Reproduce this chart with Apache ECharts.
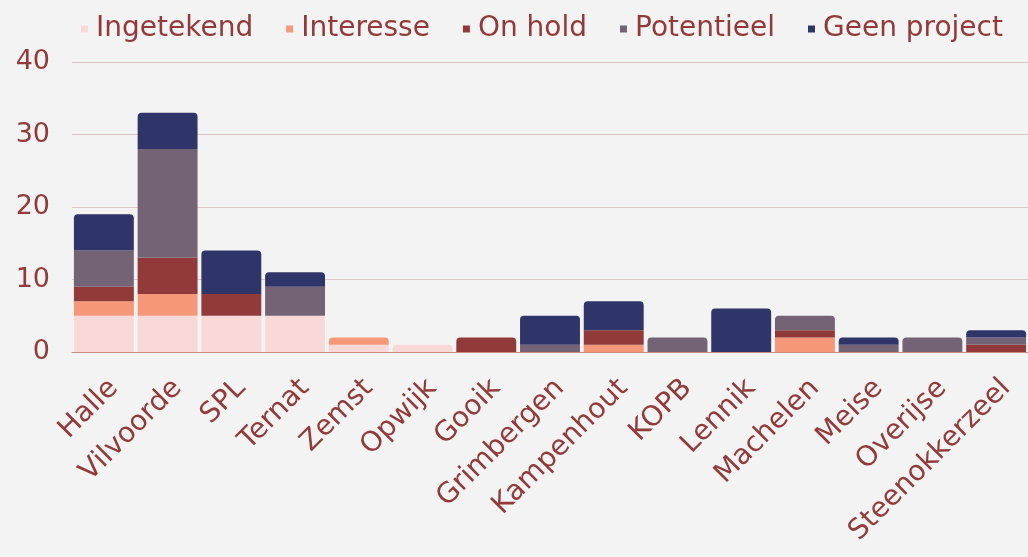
<!DOCTYPE html>
<html>
<head>
<meta charset="utf-8">
<script src="https://cdn.jsdelivr.net/npm/echarts@6/dist/echarts.min.js"></script>
<style>
  html, body { margin: 0; padding: 0; background: #f3f3f3; }
  #main { width: 1028px; height: 557px; }
</style>
</head>
<body>
<div id="main"></div>
<script>
var categories = ['Halle', 'Vilvoorde', 'SPL', 'Ternat', 'Zemst', 'Opwijk', 'Gooik', 'Grimbergen', 'Kampenhout', 'KOPB', 'Lennik', 'Machelen', 'Meise', 'Overijse', 'Steenokkerzeel'];
var seriesNames = ['Ingetekend', 'Interesse', 'On hold', 'Potentieel', 'Geen project'];
var ingetekend = [5, 5, 5, 5, 1, 1, 0, 0, 0, 0, 0, 0, 0, 0, 0];
var interesse  = [2, 3, 0, 0, 1, 0, 0, 0, 1, 0, 0, 2, 0, 0, 0];
var onHold     = [2, 5, 3, 0, 0, 0, 2, 0, 2, 0, 0, 1, 0, 0, 1];
var potentieel = [5, 15, 0, 4, 0, 0, 0, 1, 0, 2, 0, 2, 1, 2, 1];
var geenProject = [5, 5, 6, 2, 0, 0, 0, 4, 4, 0, 6, 0, 1, 0, 1];
var yTicks = [0, 10, 20, 30, 40];

var colors = ['#f9d9d7', '#f59879', '#923a3a', '#736375', '#303569'];
var textColor = '#923a3a';
var allData = [ingetekend, interesse, onHold, potentieel, geenProject];

// round only the top-most non-empty segment of each stack
function topIndex(i) {
  var top = -1;
  for (var s = 0; s < allData.length; s++) if (allData[s][i] > 0) top = s;
  return top;
}

var series = allData.map(function (arr, s) {
  return {
    name: seriesNames[s],
    type: 'bar',
    stack: 'total',
    barCategoryGap: '6%',
    itemStyle: { color: colors[s] },
    data: arr.map(function (v, i) {
      return {
        value: v,
        itemStyle: { borderRadius: topIndex(i) === s ? [4, 4, 0, 0] : 0 }
      };
    })
  };
});

var chart = echarts.init(document.getElementById('main'));
chart.setOption({
  backgroundColor: '#f3f3f3',
  textStyle: { fontFamily: 'DejaVu Sans' },
  legend: {
    top: 10,
    left: 76,
    itemWidth: 7,
    itemHeight: 7,
    itemGap: 33,
    icon: 'rect',
    textStyle: { color: textColor, fontSize: 28, fontFamily: 'DejaVu Sans', padding: [0, 0, 0, 3] },
    data: seriesNames
  },
  grid: { left: 72, right: 0, top: 62, bottom: 205 },
  xAxis: {
    type: 'category',
    data: categories,
    axisTick: { show: false },
    axisLine: { lineStyle: { color: '#c98a80', width: 1 } },
    axisLabel: { rotate: 45, color: textColor, fontSize: 28, margin: 22, interval: 0, verticalAlign: 'top', fontFamily: 'DejaVu Sans' }
  },
  yAxis: {
    type: 'value',
    min: yTicks[0],
    max: yTicks[yTicks.length - 1],
    interval: 10,
    axisLabel: { color: textColor, fontSize: 27, margin: 22, fontFamily: 'DejaVu Sans' },
    splitLine: { lineStyle: { color: '#dcc6c6' } }
  },
  series: series
});
</script>
</body>
</html>
